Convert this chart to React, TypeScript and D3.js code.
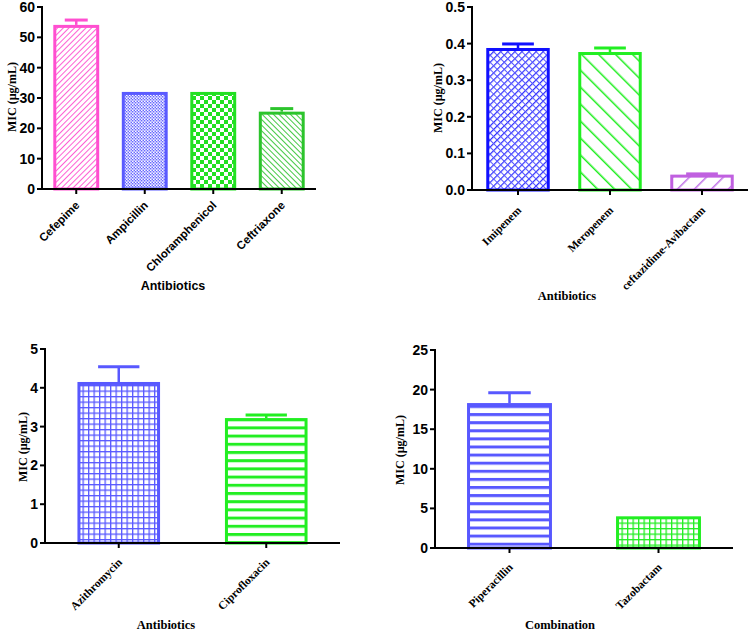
import React from "react";
import * as d3 from "d3";

// Panel A
const catsA = ["Cefepime", "Ampicillin", "Chloramphenicol", "Ceftriaxone"];
const valsA = [54.1, 32.0, 32.0, 25.5];
const errA = [1.6, 0, 0, 1.0];
const ticksA = [0, 10, 20, 30, 40, 50, 60];

// Panel B
const catsB = ["Imipenem", "Meropenem", "ceftazidime-Avibactam"];
const valsB = [0.388, 0.377, 0.042];
const errB = [0.011, 0.011, 0.002];
const ticksB = [0, 0.1, 0.2, 0.3, 0.4, 0.5];

// Panel C
const catsC = ["Azithromycin", "Ciprofloxacin"];
const valsC = [4.15, 3.22];
const errC = [0.39, 0.08];
const ticksC = [0, 1, 2, 3, 4, 5];

// Panel D
const catsD = ["Piperacillin", "Tazobactam"];
const valsD = [18.3, 4.0];
const errD = [1.3, 0];
const ticksD = [0, 5, 10, 15, 20, 25];

const SANS = "Arial, 'Liberation Sans', sans-serif";
const SERIF = "'Times New Roman', 'Liberation Serif', serif";

type Panel = {
  cats: string[];
  vals: number[];
  errs: number[];
  ticks: number[];
  fmt: (v: number) => string;
  yMax: number;
  x0: number;
  x1: number;
  yTop: number;
  yBot: number;
  pad: number;
  colors: string[];
  fills: string[];
  tickFont: string;
  tickSize: number;
  tickDy: number;
  xLabel: string;
  xLabelFont: string;
  xLabelX: number;
  xLabelY: number;
  yLabelX: number;
  yLabelY: number;
};

const panels: Panel[] = [
  {
    cats: catsA, vals: valsA, errs: errA, ticks: ticksA, fmt: d3.format("d"), yMax: 60,
    x0: 42, x1: 316, yTop: 7, yBot: 189, pad: 0.33,
    colors: ["#ff4fd0", "#5a5aff", "#22e022", "#2cc42c"],
    fills: ["url(#pDiagDenseP)", "url(#pFineCheckB)", "url(#pCheckG)", "url(#pDiagDenseBackG)"],
    tickFont: SANS, tickSize: 11.5, tickDy: 17, xLabel: "Antibiotics", xLabelFont: SANS, xLabelX: 173, xLabelY: 290,
    yLabelX: 12, yLabelY: 97,
  },
  {
    cats: catsB, vals: valsB, errs: errB, ticks: ticksB, fmt: d3.format(".1f"), yMax: 0.5,
    x0: 472, x1: 748, yTop: 7, yBot: 190, pad: 0.31,
    colors: ["#1010ff", "#22ee22", "#c060e0"],
    fills: ["url(#pCrossBlue)", "url(#pDiagBackG)", "url(#pDiagPurple)"],
    tickFont: SERIF, tickSize: 11.5, tickDy: 21, xLabel: "Antibiotics", xLabelFont: SERIF, xLabelX: 567, xLabelY: 300,
    yLabelX: 438, yLabelY: 98,
  },
  {
    cats: catsC, vals: valsC, errs: errC, ticks: ticksC, fmt: d3.format("d"), yMax: 5,
    x0: 45, x1: 340, yTop: 349, yBot: 543, pad: 0.44,
    colors: ["#5858ff", "#22ee22"],
    fills: ["url(#pGridB)", "url(#pHorizG)"],
    tickFont: SERIF, tickSize: 11.5, tickDy: 20, xLabel: "Antibiotics", xLabelFont: SERIF, xLabelX: 166, xLabelY: 629,
    yLabelX: 23, yLabelY: 447,
  },
  {
    cats: catsD, vals: valsD, errs: errD, ticks: ticksD, fmt: d3.format("d"), yMax: 25,
    x0: 435, x1: 733, yTop: 350, yBot: 548, pad: 0.43,
    colors: ["#5858ff", "#22ee22"],
    fills: ["url(#pHorizB)", "url(#pGridG)"],
    tickFont: SERIF, tickSize: 11.5, tickDy: 20, xLabel: "Combination", xLabelFont: SERIF, xLabelX: 560, xLabelY: 629,
    yLabelX: 400, yLabelY: 450,
  },
];

function Patterns() {
  return (
    <defs>
      <pattern id="pDiagDenseP" patternUnits="userSpaceOnUse" width="4" height="4" patternTransform="rotate(45)">
        <rect width="4" height="4" fill="#fff" />
        <line x1="0" y1="0" x2="0" y2="4" stroke="#ff5fd4" strokeWidth="2" />
      </pattern>
      <pattern id="pFineCheckB" patternUnits="userSpaceOnUse" width="3" height="3">
        <rect width="3" height="3" fill="#fff" />
        <rect width="1.5" height="1.5" fill="#6a6aff" />
        <rect x="1.5" y="1.5" width="1.5" height="1.5" fill="#6a6aff" />
        <rect x="1.5" y="0" width="1.5" height="1.5" fill="#c8c8ff" />
      </pattern>
      <pattern id="pCheckG" patternUnits="userSpaceOnUse" width="8" height="8">
        <rect width="8" height="8" fill="#fff" />
        <rect width="4" height="4" fill="#22e022" />
        <rect x="4" y="4" width="4" height="4" fill="#22e022" />
      </pattern>
      <pattern id="pDiagDenseBackG" patternUnits="userSpaceOnUse" width="4" height="4" patternTransform="rotate(-45)">
        <rect width="4" height="4" fill="#fff" />
        <line x1="0" y1="0" x2="0" y2="4" stroke="#44c844" strokeWidth="2" />
      </pattern>
      <pattern id="pCrossBlue" patternUnits="userSpaceOnUse" width="5" height="5" patternTransform="rotate(45)">
        <rect width="5" height="5" fill="#fff" />
        <line x1="0" y1="0" x2="0" y2="5" stroke="#2a2aff" strokeWidth="2.4" />
        <line x1="0" y1="2.5" x2="5" y2="2.5" stroke="#5a5aff" strokeWidth="1" />
      </pattern>
      <pattern id="pDiagBackG" patternUnits="userSpaceOnUse" width="12" height="12" patternTransform="rotate(-45)">
        <rect width="12" height="12" fill="#fff" />
        <line x1="0" y1="0" x2="0" y2="12" stroke="#22ee22" strokeWidth="3" />
      </pattern>
      <pattern id="pDiagPurple" patternUnits="userSpaceOnUse" width="12" height="12" patternTransform="rotate(45)">
        <rect width="12" height="12" fill="#fff" />
        <line x1="0" y1="0" x2="0" y2="12" stroke="#c070e8" strokeWidth="3" />
      </pattern>
      <pattern id="pGridB" patternUnits="userSpaceOnUse" width="5.5" height="5.5">
        <rect width="5.5" height="5.5" fill="#fff" />
        <line x1="0" y1="0.6" x2="5.5" y2="0.6" stroke="#5858ff" strokeWidth="1.4" />
        <line x1="0.6" y1="0" x2="0.6" y2="5.5" stroke="#5858ff" strokeWidth="1.4" />
      </pattern>
      <pattern id="pHorizG" patternUnits="userSpaceOnUse" width="8" height="8.2">
        <rect width="8" height="8.2" fill="#fff" />
        <line x1="0" y1="1.5" x2="8" y2="1.5" stroke="#22ee22" strokeWidth="3" />
      </pattern>
      <pattern id="pHorizB" patternUnits="userSpaceOnUse" width="8" height="8.1">
        <rect width="8" height="8.1" fill="#fff" />
        <line x1="0" y1="1.5" x2="8" y2="1.5" stroke="#5858ff" strokeWidth="3" />
      </pattern>
      <pattern id="pGridG" patternUnits="userSpaceOnUse" width="5.5" height="5.5">
        <rect width="5.5" height="5.5" fill="#fff" />
        <line x1="0" y1="0.6" x2="5.5" y2="0.6" stroke="#22ee22" strokeWidth="1.4" />
        <line x1="0.6" y1="0" x2="0.6" y2="5.5" stroke="#22ee22" strokeWidth="1.4" />
      </pattern>
    </defs>
  );
}

function BarPanel({ p }: { p: Panel }) {
  const x = d3.scaleBand<string>().domain(p.cats).range([p.x0, p.x1]).paddingInner(p.pad).paddingOuter(p.pad / 2);
  const y = d3.scaleLinear().domain([0, p.yMax]).range([p.yBot, p.yTop]);
  const bw = x.bandwidth();
  const sw = 3;
  return (
    <g>
      {p.cats.map((c, i) => {
        const bx = x(c)!;
        const top = y(p.vals[i]);
        const cx = bx + bw / 2;
        const errTop = y(p.vals[i] + p.errs[i]);
        return (
          <g key={c}>
            {p.errs[i] > 0 && (
              <g stroke={p.colors[i]} strokeWidth={2.5}>
                <line x1={cx} x2={cx} y1={top} y2={errTop} />
                <line x1={cx - bw / 4} x2={cx + bw / 4} y1={errTop} y2={errTop} strokeWidth={3} />
              </g>
            )}
            <rect
              x={bx + sw / 2}
              y={top + sw / 2}
              width={bw - sw}
              height={p.yBot - top - sw / 2}
              fill={p.fills[i]}
              stroke={p.colors[i]}
              strokeWidth={sw}
            />
          </g>
        );
      })}
      {/* y axis */}
      <line x1={p.x0} x2={p.x0} y1={p.yTop - 1} y2={p.yBot + 1} stroke="#000" strokeWidth={2} />
      {p.ticks.map((t) => (
        <g key={t}>
          <line x1={p.x0 - 5} x2={p.x0} y1={y(t)} y2={y(t)} stroke="#000" strokeWidth={2} />
          <text
            x={p.x0 - 7}
            y={y(t)}
            dy="0.36em"
            textAnchor="end"
            fontFamily={SANS}
            fontWeight="bold"
            fontSize={14}
          >
            {p.fmt(t)}
          </text>
        </g>
      ))}
      {/* x axis */}
      <line x1={p.x0 - 1} x2={p.x1} y1={p.yBot} y2={p.yBot} stroke="#000" strokeWidth={2} />
      {p.cats.map((c) => {
        const cx = x(c)! + bw / 2;
        return (
          <g key={"t" + c}>
            <line x1={cx} x2={cx} y1={p.yBot} y2={p.yBot + 5} stroke="#000" strokeWidth={2} />
            <text
              transform={`translate(${cx + 4},${p.yBot + p.tickDy}) rotate(-45)`}
              textAnchor="end"
              fontFamily={p.tickFont}
              fontWeight="bold"
              fontSize={p.tickSize}
            >
              {c}
            </text>
          </g>
        );
      })}
      <text
        x={p.xLabelX}
        y={p.xLabelY}
        textAnchor="middle"
        fontFamily={p.xLabelFont}
        fontWeight="bold"
        fontSize={12.5}
      >
        {p.xLabel}
      </text>
      <text
        transform={`translate(${p.yLabelX},${p.yLabelY}) rotate(-90)`}
        textAnchor="middle"
        dy="0.35em"
        fontFamily={SERIF}
        fontWeight="bold"
        fontSize={12}
      >
        MIC (µg/mL)
      </text>
    </g>
  );
}

export default function App() {
  return (
    <svg
      width={750}
      height={632}
      style={{ position: "absolute", left: 0, top: 0, background: "#fff" }}
    >
      <Patterns />
      <rect width={750} height={632} fill="#fff" />
      {panels.map((p, i) => (
        <BarPanel key={i} p={p} />
      ))}
    </svg>
  );
}
